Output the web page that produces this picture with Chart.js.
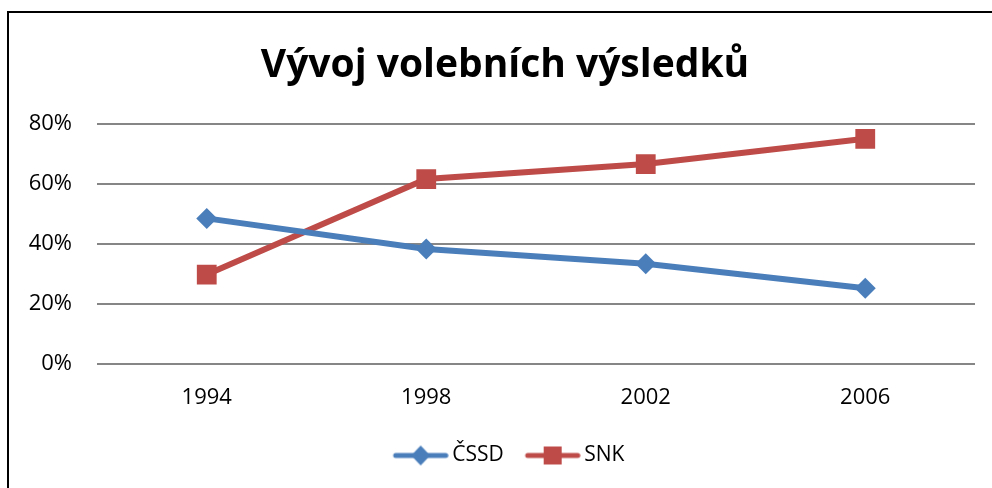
<!DOCTYPE html>
<html>
<head>
<meta charset="utf-8">
<script src="https://cdn.jsdelivr.net/npm/chart.js@4/dist/chart.umd.min.js"></script>
<style>
  html, body { margin: 0; padding: 0; background: #fff; overflow: hidden; }
  #frame { position: absolute; left: 7px; top: 11px; width: 1000px; height: 500px; border: 2px solid #000; }
  #wrap { position: absolute; left: 0; top: 0; width: 975px; height: 488px; }
</style>
</head>
<body>
<div id="frame"></div>
<div id="wrap"><canvas id="lineChart"></canvas></div>
<script>
var years = ['1994', '1998', '2002', '2006'];
var cssd = [48.5, 38.3, 33.4, 25.2];
var snk = [29.8, 61.6, 66.6, 75.0];
var seriesNames = ['ČSSD', 'SNK'];
var yTicks = [0, 20, 40, 60, 80];

var BLUE = '#4a7ebb';
var RED = '#be4b48';
var FONT = '"Open Sans", sans-serif';

// legend swatch: line with marker, drawn at its right part so text sits close
function legendSwatch(color, shape) {
  var c = document.createElement('canvas');
  c.width = 70;
  c.height = 22;
  var g = c.getContext('2d');
  g.strokeStyle = color;
  g.lineWidth = 5;
  g.lineCap = 'round';
  g.beginPath();
  g.moveTo(17, 11);
  g.lineTo(67, 11);
  g.stroke();
  g.fillStyle = color;
  var cx = 42, cy = 11;
  if (shape === 'diamond') {
    g.beginPath();
    g.moveTo(cx, cy - 10);
    g.lineTo(cx + 9.5, cy);
    g.lineTo(cx, cy + 10);
    g.lineTo(cx - 9.5, cy);
    g.closePath();
    g.fill();
  } else {
    g.fillRect(cx - 9, cy - 9, 18, 18);
  }
  return c;
}

var swatches = [legendSwatch(BLUE, 'diamond'), legendSwatch(RED, 'square')];

var ctx = document.getElementById('lineChart');
new Chart(ctx, {
  type: 'line',
  data: {
    labels: years,
    datasets: [
      {
        label: seriesNames[0],
        data: cssd,
        borderColor: BLUE,
        backgroundColor: BLUE,
        borderWidth: 6,
        pointStyle: 'rectRot',
        pointRadius: 10.5,
        pointHoverRadius: 10.5,
        pointBorderWidth: 0,
        tension: 0,
        fill: false,
      },
      {
        label: seriesNames[1],
        data: snk,
        borderColor: RED,
        backgroundColor: RED,
        borderWidth: 6,
        pointStyle: 'rect',
        pointRadius: 14,
        pointHoverRadius: 14,
        pointBorderWidth: 0,
        tension: 0,
        fill: false,
      },
    ]
  },
  options: {
    responsive: true,
    maintainAspectRatio: false,
    animation: false,
    layout: {
      autoPadding: false,
      padding: { left: 35, right: 0, top: 42, bottom: 12 }
    },
    plugins: {
      title: {
        display: true,
        text: 'Vývoj volebních výsledků',
        color: '#000',
        font: { family: FONT, size: 39, weight: 'bold', lineHeight: 1.2 },
        padding: { top: 0, bottom: 35 },
      },
      legend: {
        display: true,
        position: 'bottom',
        align: 'center',
        labels: {
          usePointStyle: true,
          pointStyleWidth: 56,
          boxHeight: 22,
          padding: 14,
          color: '#000',
          font: { family: FONT, size: 21 },
          generateLabels: function (chart) {
            return chart.data.datasets.map(function (ds, i) {
              return {
                text: ds.label,
                pointStyle: swatches[i],
                fillStyle: ds.borderColor,
                strokeStyle: ds.borderColor,
                lineWidth: 0,
                hidden: false,
                datasetIndex: i,
                fontColor: '#000',
              };
            });
          }
        }
      },
      tooltip: { enabled: false },
    },
    scales: {
      x: {
        offset: true,
        grid: { display: false },
        border: { display: false },
        ticks: {
          color: '#000',
          padding: 13,
          font: { family: FONT, size: 22 },
        },
        afterFit: function (scale) {
          scale.height = 67;
          scale.paddingLeft = 0;
          scale.paddingRight = 0;
        },
      },
      y: {
        min: 0,
        max: 80,
        afterBuildTicks: function (scale) {
          scale.ticks = yTicks.map(function (v) { return { value: v }; });
        },
        grid: { color: '#868686', lineWidth: 2, drawTicks: false },
        border: { display: false },
        ticks: {
          color: '#000',
          padding: 25,
          font: { family: FONT, size: 22 },
          callback: function (v) { return v + '%'; },
        },
        afterFit: function (scale) {
          scale.width = 62;
          scale.paddingTop = 0;
          scale.paddingBottom = 0;
        },
      }
    }
  },
  plugins: [{
    // let y tick labels reach left of the axis box instead of being clipped
    id: 'unclipYLabels',
    beforeDraw: function (chart) {
      chart.scales.y._computeLabelArea = function () { return undefined; };
    }
  }]
});
</script>
</body>
</html>
